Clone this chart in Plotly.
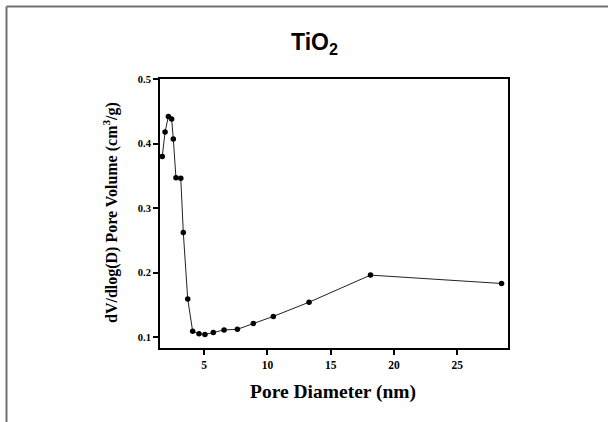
import plotly.graph_objects as go

# Data
pore_diameter_nm = [1.70, 1.92, 2.18, 2.44, 2.57, 2.78, 3.16, 3.36, 3.71, 4.10, 4.60, 5.07,
                    5.73, 6.58, 7.63, 8.89, 10.47, 13.29, 18.14, 28.49]
pore_volume = [0.380, 0.418, 0.442, 0.438, 0.407, 0.347, 0.346, 0.262, 0.159, 0.109, 0.105, 0.104,
               0.107, 0.111, 0.112, 0.121, 0.132, 0.154, 0.196, 0.183]
x_ticks = [5, 10, 15, 20, 25]
y_ticks = [0.1, 0.2, 0.3, 0.4, 0.5]
y_tick_labels = ["0.1", "0.2", "0.3", "0.4", "0.5"]

W, H = 608, 422
L, R, T, B = 160, 100, 79, 74
pw, ph = W - L - R, H - T - B

def px(x):
    return (x - L) / pw

def py(y):
    return (H - B - y) / ph

fig = go.Figure()
fig.add_trace(go.Scatter(
    x=pore_diameter_nm, y=pore_volume, mode="lines+markers",
    line=dict(color="#222222", width=1),
    marker=dict(color="black", size=5.5),
    showlegend=False,
))

serif = "Liberation Serif, Times New Roman, serif"
fig.update_layout(
    width=W, height=H,
    margin=dict(l=L, r=R, t=T, b=B),
    paper_bgcolor="white", plot_bgcolor="white",
    xaxis=dict(range=[1.52, 29.0], tickvals=x_ticks, ticks="outside", ticklen=5, tickwidth=1.5,
               tickcolor="black", showline=True, linewidth=2, linecolor="black", mirror=True,
               showgrid=False, zeroline=False,
               tickfont=dict(family=serif, size=11.5, color="black", weight="bold")),
    yaxis=dict(range=[0.083, 0.5], tickvals=y_ticks, ticktext=y_tick_labels, ticks="outside",
               ticklen=5, tickwidth=1.5, tickcolor="black", showline=True, linewidth=2,
               linecolor="black", mirror=True, showgrid=False, zeroline=False,
               tickfont=dict(family=serif, size=10.5, color="black", weight="bold")),
    annotations=[
        dict(text="<b>TiO<sub>2</sub></b>", x=px(314), y=py(44), xref="paper", yref="paper",
             showarrow=False, xanchor="center", yanchor="middle",
             font=dict(family="Liberation Sans, Arial, sans-serif", size=23, color="black")),
        dict(text="<b>Pore Diameter (nm)</b>", x=px(333), y=py(392), xref="paper", yref="paper",
             showarrow=False, xanchor="center", yanchor="middle",
             font=dict(family=serif, size=19.5, color="black")),
        dict(text="<b>dV/dlog(D) Pore Volume (cm<sup>3</sup>/g)</b>", x=px(110), y=py(213),
             xref="paper", yref="paper", textangle=-90,
             showarrow=False, xanchor="center", yanchor="middle",
             font=dict(family=serif, size=16, color="black")),
    ],
    shapes=[
        dict(type="line", xref="paper", yref="paper", x0=px(6.5), x1=px(6.5), y0=py(6.5), y1=py(H + 2),
             line=dict(color="#707070", width=2)),
        dict(type="line", xref="paper", yref="paper", x0=px(6.5), x1=px(W + 2), y0=py(6.5), y1=py(6.5),
             line=dict(color="#707070", width=2)),
    ],
)

fig.write_html("out.html", config={"displayModeBar": False},
               post_script="document.body.style.margin='0';document.body.style.padding='0';"
                           "document.body.style.overflow='hidden';")
